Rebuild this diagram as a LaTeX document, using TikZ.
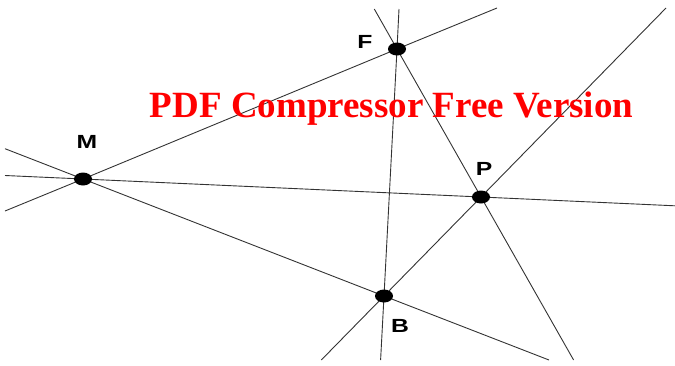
\documentclass[tikz,border=0pt]{standalone}
\usepackage{fontspec}
\setmainfont{Liberation Serif}
\setsansfont{Liberation Sans}
\usetikzlibrary{shapes.geometric}

\tikzset{
  ray/.style={black!80, line width=0.9pt},
  pt/.style={ellipse, fill=black, minimum width=18pt, minimum height=13pt, inner sep=0pt},
  ptlabel/.style={font=\sffamily\bfseries\fontsize{19}{19}\selectfont, inner sep=0pt},
}
\newcommand{\widelab}[1]{\scalebox{1.3}[1]{#1}}

\begin{document}
\begin{tikzpicture}[x=1pt, y=-1pt]
  \useasboundingbox (0,0) rectangle (675,365);
  % points
  \coordinate (M) at (83,179);
  \coordinate (F) at (397,49);
  \coordinate (P) at (481,197);
  \coordinate (B) at (384,296);
  % free ends of the lines
  \coordinate (mf0) at (5,211);
  \coordinate (mf1) at (497,8);
  \coordinate (mp0) at (5,175.5);
  \coordinate (mp1) at (675,205.8);
  \coordinate (mb0) at (5,148.7);
  \coordinate (mb1) at (549,360);
  \coordinate (fb0) at (399,9);
  \coordinate (fb1) at (380.6,360);
  \coordinate (fp0) at (374.3,9);
  \coordinate (fp1) at (573.6,360);
  \coordinate (bp0) at (321.3,360);
  \coordinate (bp1) at (666,8);
  % lines
  \draw[ray] (mf0) -- (M) -- (F) -- (mf1);
  \draw[ray] (mp0) -- (M) -- (P) -- (mp1);
  \draw[ray] (mb0) -- (M) -- (B) -- (mb1);
  \draw[ray] (fb0) -- (F) -- (B) -- (fb1);
  \draw[ray] (fp0) -- (F) -- (P) -- (fp1);
  \draw[ray] (bp0) -- (B) -- (P) -- (bp1);
  % dots on top
  \foreach \p in {M,F,P,B}
    \node[pt] (\p dot) at (\p) {};
  % labels
  \node[ptlabel] (Mlab) at (87,142) {\widelab{M}};
  \node[ptlabel] (Flab) at (365,42) {\widelab{F}};
  \node[ptlabel] (Plab) at (484,169) {\widelab{P}};
  \node[ptlabel] (Blab) at (400,326) {\widelab{B}};
  % watermark
  \node[font=\bfseries\fontsize{37}{37}\selectfont, text=red, anchor=base, inner sep=0pt] (wm) at (391.5,117) {PDF Compressor Free Version};
\end{tikzpicture}
\end{document}
